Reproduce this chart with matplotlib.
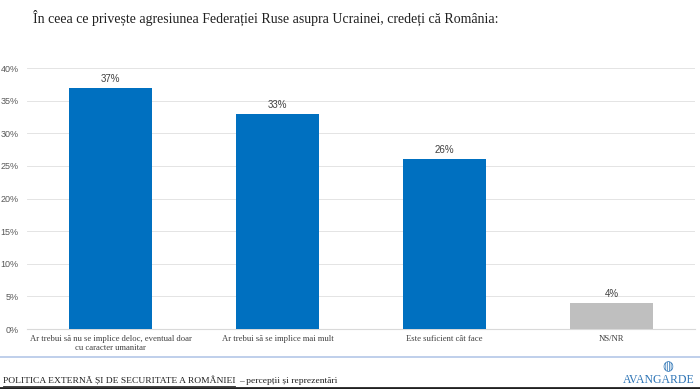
import matplotlib
matplotlib.use("Agg")
import matplotlib.pyplot as plt
from matplotlib.ticker import PercentFormatter

categories = ["Ar trebui să nu se implice deloc, eventual doar\ncu caracter umanitar",
              "Ar trebui să se implice mai mult",
              "Este suficient cât face",
              "NS/NR"]
values = [37, 33, 26, 4]
colors = ["#0070C0", "#0070C0", "#0070C0", "#BFBFBF"]
yticks = [0, 5, 10, 15, 20, 25, 30, 35, 40]

fig = plt.figure(figsize=(7, 3.89), dpi=100)
ax = fig.add_axes([0.0386, 0.1542, 0.9544, 0.6708])

x = range(len(categories))
bars = ax.bar(x, values, width=0.5, color=colors, zorder=3)
for xi, v in zip(x, values):
    ax.text(xi, v + 0.6, f"{v}%", ha="center", va="bottom", fontsize=7,
            color="#404040", family="Liberation Sans")

ax.set_xlim(-0.5, 3.5)
ax.set_ylim(0, 40)
ax.set_yticks(yticks)
ax.yaxis.set_major_formatter(PercentFormatter(decimals=0))
ax.set_xticks(list(x))
ax.set_xticklabels(categories, fontsize=6.2, color="#404040", family="Liberation Serif",
                   linespacing=1.3)
ax.tick_params(axis="y", labelsize=6.5, labelcolor="#595959", length=0, pad=6)
ax.tick_params(axis="x", length=0, pad=4)
for lbl in ax.get_yticklabels():
    lbl.set_family("Liberation Sans")
ax.grid(axis="y", color="#E4E4E4", linewidth=0.7, zorder=0)
for s in ["top", "right", "left"]:
    ax.spines[s].set_visible(False)
ax.spines["bottom"].set_color("#D9D9D9")
ax.spines["bottom"].set_linewidth(0.8)

# Title
fig.text(0.047, 0.955, "În ceea ce privește agresiunea Federației Ruse asupra Ucrainei, credeți că România:",
         fontsize=10.0, family="Liberation Serif", color="#202020", va="center", ha="left")

# Footer separator line
fig.add_artist(plt.Line2D([0, 1], [1 - 357 / 389] * 2, color="#B4C7E7", linewidth=1.2))
# Bottom black line
fig.add_artist(plt.Line2D([0, 1], [0.003, 0.003], color="#202020", linewidth=2))

fy = 1 - 381 / 389
t1 = fig.text(0.004, fy, "POLITICA EXTERNĂ ȘI DE SECURITATE A ROMÂNIEI", fontsize=6.8,
              family="Liberation Serif", color="#202020", va="center", ha="left")
fig.canvas.draw()
bb = t1.get_window_extent(renderer=fig.canvas.get_renderer())
x0 = bb.x0 / fig.bbox.width
x1 = bb.x1 / fig.bbox.width
fig.add_artist(plt.Line2D([x0, x1], [1 - 386 / 389] * 2, color="#202020", linewidth=0.6))
fig.text(x1 + 0.005, fy, "– percepții și reprezentări", fontsize=6.8,
         family="Liberation Serif", color="#202020", va="center", ha="left")
fig.text(0.992, 1 - 380 / 389, "AVANGARDE", fontsize=8.5, family="Liberation Serif",
         color="#2E75B6", va="center", ha="right")
fig.text(0.954, 1 - 367 / 389, "◍", fontsize=9, family="DejaVu Sans",
         color="#2E75B6", va="center", ha="center")

fig.savefig("out.png", dpi=100)
